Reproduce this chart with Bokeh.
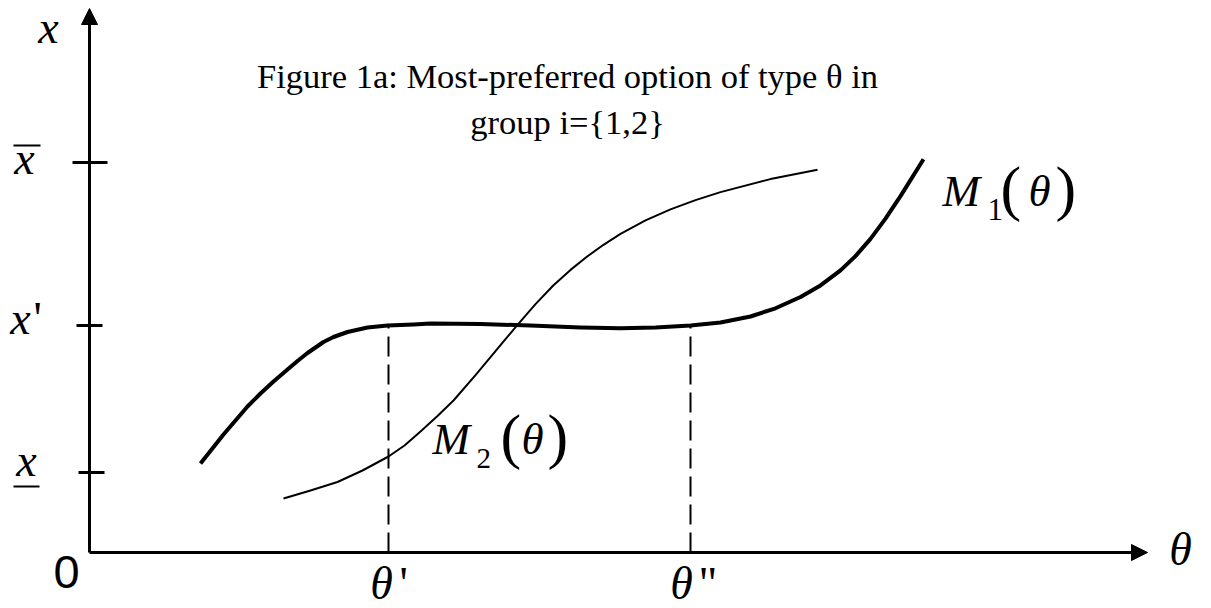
from bokeh.plotting import figure
from bokeh.models import Range1d, Arrow, NormalHead
from bokeh.core.properties import value
from bokeh.embed import file_html
from bokeh.resources import INLINE

# Type axis (theta) and option axis (x), origin at the corner of the axes
theta_max = 1058          # tip of the horizontal arrow
x_max = 544               # tip of the vertical arrow

# Levels marked on the vertical axis
x_low = 80
x_prime = 227
x_bar = 390

# Types marked on the horizontal axis
theta_prime = 299
theta_dprime = 601

# M1(theta): most-preferred option of group 1
m1_theta = [111, 134, 158, 171, 184, 198, 208, 218, 226, 234, 244, 258, 278, 298,
            324, 341, 391, 441, 491, 531, 566, 601, 631, 661, 686, 711, 731, 751,
            766, 781, 796, 811, 834]
m1_x = [89, 118, 146, 159, 171, 183, 191.5, 199.5, 205, 210.5, 215.5, 220.5, 225, 227,
        228, 229, 228.5, 227, 225, 224.2, 225, 227, 230, 236, 244.2, 255.5, 267.1, 282.1,
        296.4, 313.6, 333.9, 356.4, 393.2]

# M2(theta): most-preferred option of group 2
m2_theta = [194, 221, 248, 273, 299, 315, 331, 348, 364, 386, 406, 428, 446, 464,
            481, 498, 514, 531, 556, 581, 606, 631, 681, 728]
m2_x = [54, 62, 70.5, 82, 96, 107, 121, 136.5, 152, 177.3, 201.3, 227.7, 248.4, 267.3,
        282.6, 296.2, 307.7, 318.6, 332.1, 343.1, 352.4, 360.4, 373.4, 382.8]

SERIF = value("Liberation Serif")
SANS = value("Liberation Sans")

p = figure(width=1211, height=608, output_backend="svg", toolbar_location=None,
           x_range=Range1d(-89, 1122), y_range=Range1d(-56, 552),
           min_border=0, outline_line_color=None)
p.axis.visible = False
p.grid.visible = False
p.background_fill_color = "white"
p.border_fill_color = "white"

# axes with arrowheads
p.add_layout(Arrow(x_start=0, y_start=0, x_end=0, y_end=x_max, line_width=3,
                   line_color="black",
                   end=NormalHead(size=16, fill_color="black", line_color="black",
                                  line_width=1)))
p.add_layout(Arrow(x_start=0, y_start=0, x_end=theta_max, y_end=0, line_width=3,
                   line_color="black",
                   end=NormalHead(size=16, fill_color="black", line_color="black",
                                  line_width=1)))

# tick marks on the vertical axis
tick_left = [-17, -13, -11]
tick_right = [18, 13, 15]
tick_levels = [x_bar, x_prime, x_low]
p.segment(x0=tick_left, y0=tick_levels, x1=tick_right, y1=tick_levels,
          line_width=3, line_color="black")

# dashed guides from the types up to M1
p.segment(x0=[theta_prime, theta_dprime], y0=[0, 0],
          x1=[theta_prime, theta_dprime], y1=[x_prime, x_prime],
          line_width=2, line_color="black", line_dash="20 8")

# curves
p.line(m1_theta, m1_x, line_width=4, line_color="black", line_join="round")
p.line(m2_theta, m2_x, line_width=2, line_color="black", line_join="round")


def label(x, y, txt, size, font=SERIF, style="normal", align="left"):
    # y is the text baseline; shift so the glyphs sit on it
    p.text(x=[x], y=[y + 0.36 * size], text=[txt], text_font=font,
           text_font_size=f"{size}px", text_font_style=style, text_align=align,
           text_baseline="alphabetic", text_color="black")


# title
label(478, 464, "Figure 1a: Most-preferred option of type \u03b8 in", 34.5, align="center")
label(478, 418, "group i={1,2}", 34.5, align="center")

# vertical axis labels
label(-41, 508, "x", 46, style="italic", align="center")
label(-65, 377, "x", 46, style="italic", align="center")
p.segment(x0=[-76], y0=[407], x1=[-49], y1=[407], line_width=2, line_color="black")
label(-69, 217, "x", 46, style="italic", align="center")
label(-56, 217, "'", 46)
label(-63, 75, "x", 46, style="italic", align="center")
p.segment(x0=[-76], y0=[66], x1=[-50], y1=[66], line_width=2, line_color="black")
label(-23, -36, "0", 47, font=SANS, align="center")

# horizontal axis labels
label(theta_prime - 7, -48, "\u03b8", 46, style="italic", align="center")
label(theta_prime + 11, -48, "'", 46)
label(theta_dprime - 9, -48, "\u03b8", 46, style="italic", align="center")
label(theta_dprime + 8, -48, "\"", 46)
label(1091, -14, "\u03b8", 46, style="italic", align="center")

# curve labels
label(853, 345, "M", 45, style="italic")
label(898, 332, "1", 31)
label(911, 342, "(", 62)
label(939, 345, "\u03b8", 45, style="italic")
label(966, 342, ")", 62)

label(343, 97, "M", 45, style="italic")
label(387, 84, "2", 29)
label(411, 94, "(", 62)
label(432, 97, "\u03b8", 45, style="italic")
label(458, 94, ")", 62)

open("out.html", "w").write(file_html(p, INLINE))
